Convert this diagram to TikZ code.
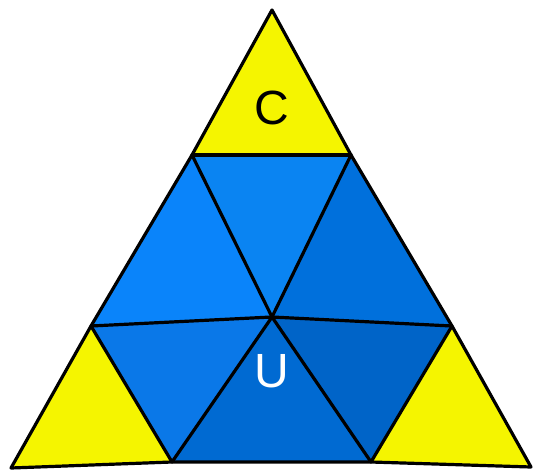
\documentclass[tikz,border=0pt]{standalone}
\usepackage{fontspec}
\setmainfont{Liberation Sans}
\definecolor{ylw}{HTML}{F5F500}
\definecolor{bT}{HTML}{0A84F2}
\definecolor{bTL}{HTML}{0A84FA}
\definecolor{bTR}{HTML}{0070DC}
\definecolor{bBL}{HTML}{0A78E8}
\definecolor{bBR}{HTML}{0064C8}
\definecolor{bB}{HTML}{006AD2}
\begin{document}
\begin{tikzpicture}[x=1pt,y=-1pt,
  face/.style={draw=black,line width=3.2pt,line join=round,line cap=round},
  lbl/.style={font=\fontsize{48}{48}\selectfont,inner sep=0pt}]
\useasboundingbox (0,0) rectangle (533,471);
\coordinate (A) at (272,10);
\coordinate (L) at (11,468);
\coordinate (R) at (531,467);
\coordinate (T1) at (192,155);
\coordinate (T2) at (351,155);
\coordinate (M1) at (91,326);
\coordinate (M2) at (452,326);
\coordinate (B1) at (172,462);
\coordinate (B2) at (371,462);
\coordinate (O) at (272,317);
% yellow corners
\fill[ylw] (A) -- (T2) -- (T1) -- cycle;
\fill[ylw] (M1) -- (B1) -- (L) -- cycle;
\fill[ylw] (M2) -- (R) -- (B2) -- cycle;
% blue triangles
\fill[bT] (T1) -- (T2) -- (O) -- cycle;
\fill[bTL] (T1) -- (O) -- (M1) -- cycle;
\fill[bTR] (T2) -- (M2) -- (O) -- cycle;
\fill[bBL] (M1) -- (O) -- (B1) -- cycle;
\fill[bBR] (M2) -- (B2) -- (O) -- cycle;
\fill[bB] (B1) -- (O) -- (B2) -- cycle;
% edges
\draw[face] (A) -- (T1) -- (M1) -- (L) -- (B1) -- (B2) -- (R) -- (M2) -- (T2) -- cycle;
\draw[face] (T1) -- (T2);
\draw[face] (M1) -- (O) -- (M2);
\draw[face] (T1) -- (O) -- (B2);
\draw[face] (T2) -- (O) -- (B1);
\draw[face] (M1) -- (B1);
\draw[face] (M2) -- (B2);
\node[lbl] (c) at (272,108) {C};
\node[lbl,text=white] (u) at (272,371) {U};
\end{tikzpicture}
\end{document}
